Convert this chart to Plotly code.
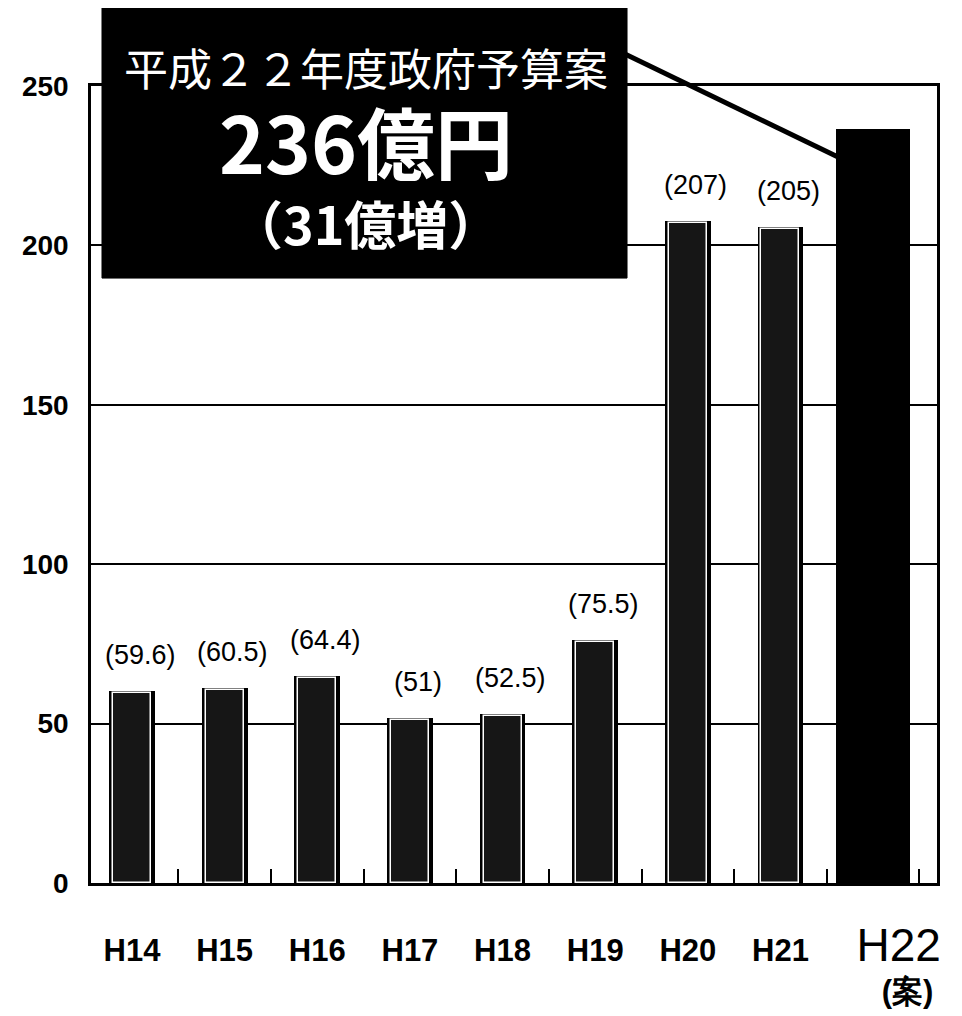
import plotly.graph_objects as go

categories = ["H14", "H15", "H16", "H17", "H18", "H19", "H20", "H21", "H22"]
values = [59.6, 60.5, 64.4, 51, 52.5, 75.5, 207, 205, 236]
value_labels = ["(59.6)", "(60.5)", "(64.4)", "(51)", "(52.5)", "(75.5)", "(207)", "(205)", ""]
tick_labels = ["<b>H14</b>", "<b>H15</b>", "<b>H16</b>", "<b>H17</b>", "<b>H18</b>",
               "<b>H19</b>", "<b>H20</b>", "<b>H21</b>",
               "<span style=\"font-size:46px;font-weight:normal\">&nbsp;&nbsp;&nbsp;&nbsp;H22</span>"
               "<br><b>&nbsp;&nbsp;&nbsp;&nbsp;&nbsp;&nbsp;&nbsp;&nbsp;(案)</b>"]
y_ticks = [0, 50, 100, 150, 200, 250]
box_title = "平成２２年度政府予算案"
box_amount = "236億円"
box_increase = "（31億増）"

n = len(categories)
outer_w = [0.45] * (n - 1) + [0.76]
inner_w = [0.41] * (n - 1) + [0.76]
inner_line = ["white"] * (n - 1) + ["black"]
inner_fill = ["#161616"] * (n - 1) + ["black"]

fig = go.Figure()
fig.add_trace(go.Bar(x=categories, y=values, width=outer_w,
                     marker=dict(color="black", line=dict(color="black", width=4)),
                     hoverinfo="skip", showlegend=False))
fig.add_trace(go.Bar(x=categories, y=values, width=inner_w,
                     marker=dict(color=inner_fill, line=dict(color=inner_line, width=1.5)),
                     showlegend=False))

for c, v, t in zip(categories, values, value_labels):
    if t:
        fig.add_annotation(x=c, y=v, text=t, showarrow=False, xshift=8, yshift=38,
                           xanchor="center", yanchor="middle",
                           font=dict(family="Liberation Sans, Arial, sans-serif", size=27, color="black"))

cjk = "Noto Sans CJK JP, sans-serif"
fig.add_shape(type="line", xref="paper", yref="paper", x0=0.60, y0=1.056, x1=0.883, y1=0.911,
              line=dict(color="black", width=5), layer="above")
fig.add_shape(type="rect", xref="paper", yref="paper", x0=0.013, x1=0.6336, y0=0.759, y1=1.099,
              fillcolor="black", line=dict(color="black", width=1), layer="above")
fig.add_annotation(xref="paper", yref="paper", x=0.325, y=1.024, text=box_title, showarrow=False,
                   xanchor="center", yanchor="middle",
                   font=dict(family=cjk, size=44, color="white"))
fig.add_annotation(xref="paper", yref="paper", x=0.325, y=0.932, text="<b>" + box_amount + "</b>",
                   showarrow=False, xanchor="center", yanchor="middle",
                   font=dict(family=cjk, size=78, color="white"))
fig.add_annotation(xref="paper", yref="paper", x=0.325, y=0.829, text="<b>" + box_increase + "</b>",
                   showarrow=False, xanchor="center", yanchor="middle",
                   font=dict(family=cjk, size=52, color="white"))

fig.update_layout(
    width=962, height=1016,
    margin=dict(l=83, r=33, t=78, b=141, autoexpand=False),
    plot_bgcolor="white", paper_bgcolor="white",
    barmode="overlay", bargap=0,
    showlegend=False,
    xaxis=dict(type="category", range=[-0.443, 8.69], tickmode="array",
               tickvals=categories, ticktext=tick_labels, tickson="boundaries",
               ticks="inside", ticklen=14, tickwidth=2, tickcolor="black", tickangle=0,
               showline=True, linewidth=3, linecolor="black", mirror=True, showgrid=False,
               ticklabelstandoff=38, automargin=False,
               tickfont=dict(family="Liberation Sans, Arial, sans-serif", size=31, color="black")),
    yaxis=dict(range=[0, 250], tickmode="array", tickvals=y_ticks,
               showgrid=True, gridcolor="black", gridwidth=2, zeroline=False,
               showline=True, linewidth=2.5, linecolor="black", mirror=True, ticks="",
               ticklabelstandoff=14, automargin=False,
               tickfont=dict(family="Liberation Sans, Arial, sans-serif", size=28, color="black",
                             weight="bold")),
)

fig.write_html("out.html")
